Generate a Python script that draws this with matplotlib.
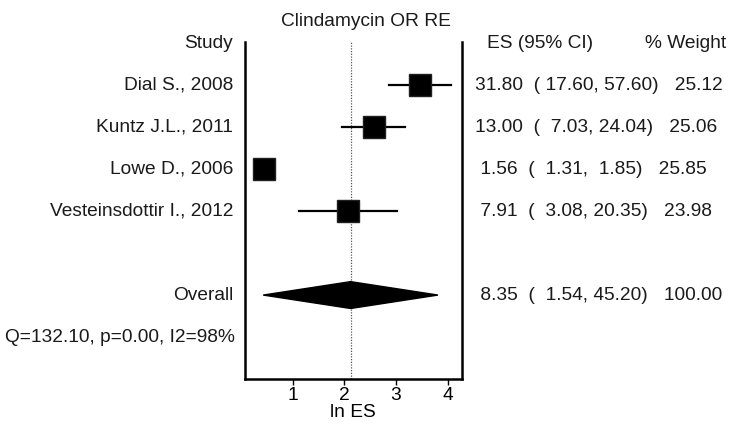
import numpy as np
import matplotlib.pyplot as plt

plt.rcParams['font.family'] = ['Liberation Sans', 'DejaVu Sans']

studies = ["Dial S., 2008", "Kuntz J.L., 2011", "Lowe D., 2006", "Vesteinsdottir I., 2012"]
es = [31.80, 13.00, 1.56, 7.91]
lo = [17.60, 7.03, 1.31, 3.08]
hi = [57.60, 24.04, 1.85, 20.35]
weights = [25.12, 25.06, 25.85, 23.98]
overall = [8.35, 1.54, 45.20]
overall_weight = 100.00
het_text = "Q=132.10, p=0.00, I2=98%"
xticks = [1, 2, 3, 4]

rows = np.arange(1, len(studies) + 1)
row_overall = 6
row_het = 7

fig = plt.figure(figsize=(7.35, 4.3), dpi=100)
ax = fig.add_axes([245 / 735, 51 / 430, 216.7 / 735, 337 / 430])

# study estimates on log scale
for y, e, l, h, w in zip(rows, es, lo, hi, weights):
    ax.plot([np.log(l), np.log(h)], [y, y], color='black', lw=1.6, zorder=2)
    ax.plot(np.log(e), y, marker='s', color='black', mec='#202020',
            ms=15.8 * np.sqrt(w / 25.0), zorder=3)

# overall diamond
oe, ol, oh = np.log(overall)
dh = 0.32
ax.fill([ol, oe, oh, oe], [row_overall, row_overall - dh, row_overall, row_overall + dh],
        color='black', zorder=3)
ax.axvline(oe, color='#555555', lw=0.9, ls=(0, (1, 1.2)), zorder=1)

fs = 13.8
ax.set_xlim(0.08, 4.27)
ax.set_ylim(8, -0.03)
ax.set_xticks(xticks)
ax.set_xticklabels([str(t) for t in xticks], fontsize=fs)
ax.set_yticks([])
ax.tick_params(axis='x', length=4, width=1.0, pad=2)
ax.spines['top'].set_visible(False)
for s in ['left', 'right', 'bottom']:
    ax.spines[s].set_linewidth(1.8)
ax.set_xlabel("ln ES", fontsize=fs, labelpad=0)

tr = ax.get_yaxis_transform()
txt = '#1a1a1a'
ax.text(-0.055, 0, "Study", transform=tr, ha='right', va='center', fontsize=fs, color=txt, clip_on=False)
ax.text(1.117, 0, "ES (95% CI)", transform=tr, ha='left', va='center', fontsize=fs, color=txt, clip_on=False)
ax.text(1.846, 0, "% Weight", transform=tr, ha='left', va='center', fontsize=fs, color=txt, clip_on=False)

def es_str(e, l, h, w):
    return "%5.2f  ( %5.2f, %5.2f)   %.2f" % (e, l, h, w)

for y, name, e, l, h, w in zip(rows, studies, es, lo, hi, weights):
    ax.text(-0.055, y, name, transform=tr, ha='right', va='center', fontsize=fs, color=txt, clip_on=False)
    ax.text(1.061, y, es_str(e, l, h, w), transform=tr, ha='left', va='center',
            fontsize=fs, color=txt, clip_on=False)

ax.text(-0.055, row_overall, "Overall", transform=tr, ha='right', va='center', fontsize=fs, color=txt, clip_on=False)
ax.text(1.061, row_overall, es_str(overall[0], overall[1], overall[2], overall_weight),
        transform=tr, ha='left', va='center', fontsize=fs, color=txt, clip_on=False)
ax.text(-1.107, row_het, het_text, transform=tr, ha='left', va='center', fontsize=fs, color=txt, clip_on=False)

fig.text(366 / 735, 1 - 22 / 430, "Clindamycin OR RE", ha='center', va='center', fontsize=fs, color=txt)

fig.savefig("out.png", dpi=100)
